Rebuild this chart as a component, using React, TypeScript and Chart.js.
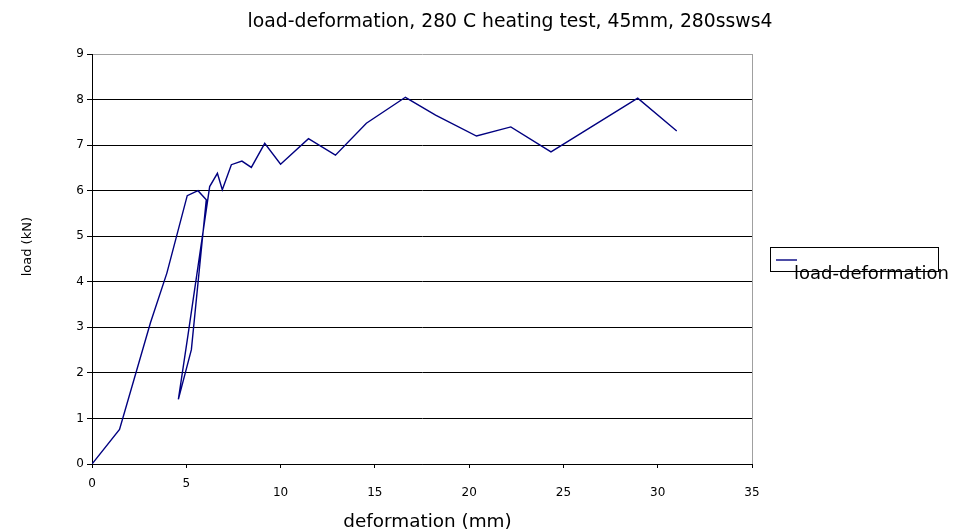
import React, { useEffect, useRef } from "react";
import { Chart, registerables } from "chart.js";

Chart.register(...registerables);

const chartTitle = "load-deformation, 280 C heating test, 45mm, 280ssws4";
const xAxisTitle = "deformation (mm)";
const yAxisTitle = "load (kN)";
const seriesName = "load-deformation";

const deformation = [
  0, 1.46, 3.1, 3.97, 5.05, 5.62, 6.06, 5.27, 4.58, 5.08, 6.24, 6.65, 6.91, 7.39,
  7.95, 8.45, 9.16, 10.0, 11.48, 12.91, 14.55, 16.62, 18.22, 20.39, 22.21, 24.34,
  28.94, 31.01,
];
const load = [
  0, 0.76, 3.1, 4.19, 5.89, 6.0, 5.8, 2.51, 1.42, 2.8, 6.09, 6.38, 6.02, 6.57,
  6.65, 6.51, 7.04, 6.58, 7.14, 6.78, 7.48, 8.05, 7.66, 7.2, 7.4, 6.85, 8.03,
  7.31,
];

const xTicks = [0, 5, 10, 15, 20, 25, 30, 35];
const yTicks = [0, 1, 2, 3, 4, 5, 6, 7, 8, 9];

const LINE_COLOR = "#000080";
const FONT = "'DejaVu Sans', sans-serif";

const overlayPlugin = {
  id: "overlay",
  afterDraw(chart: any) {
    const ctx = chart.ctx as CanvasRenderingContext2D;
    ctx.save();
    ctx.fillStyle = "#000";
    ctx.textBaseline = "alphabetic";

    // title
    ctx.font = `18.8px ${FONT}`;
    ctx.textAlign = "center";
    ctx.fillText(chartTitle, 510, 26.5);

    // x axis title
    ctx.font = `18.4px ${FONT}`;
    ctx.fillText(xAxisTitle, 427.5, 526.5);

    // y axis title
    ctx.save();
    ctx.translate(31, 246.7);
    ctx.rotate(-Math.PI / 2);
    ctx.font = `13px ${FONT}`;
    ctx.textAlign = "center";
    ctx.fillText(yAxisTitle, 0, 0);
    ctx.restore();

    // legend
    ctx.strokeStyle = "#000";
    ctx.lineWidth = 1;
    ctx.strokeRect(770.5, 247.5, 168, 24);
    ctx.strokeStyle = LINE_COLOR;
    ctx.lineWidth = 1.4;
    ctx.beginPath();
    ctx.moveTo(776, 260);
    ctx.lineTo(797, 260);
    ctx.stroke();
    ctx.font = `18px ${FONT}`;
    ctx.textAlign = "left";
    ctx.fillStyle = "#000";
    ctx.fillText(seriesName, 794, 279);
    ctx.restore();
  },
};

export default function App() {
  const canvasRef = useRef<HTMLCanvasElement | null>(null);

  useEffect(() => {
    document.body.style.margin = "0";
    const canvas = canvasRef.current;
    if (!canvas) return;
    const points = deformation.map((x, i) => ({ x, y: load[i] }));
    const chart = new Chart(canvas, {
      type: "line",
      data: {
        datasets: [
          {
            label: seriesName,
            data: points,
            borderColor: LINE_COLOR,
            backgroundColor: LINE_COLOR,
            borderWidth: 1.4,
            pointRadius: 0,
            tension: 0,
            fill: false,
          },
        ],
      },
      options: {
        responsive: false,
        animation: false,
        layout: { padding: { top: 54, right: 208, left: 0, bottom: 0 } },
        plugins: {
          legend: { display: false },
          title: { display: false },
          tooltip: { enabled: false },
        },
        scales: {
          x: {
            type: "linear",
            min: xTicks[0],
            max: xTicks[xTicks.length - 1],
            afterFit(scale: any) {
              scale.height = 68;
            },
            afterBuildTicks(scale: any) {
              scale.ticks = xTicks.map((v) => ({ value: v }));
            },
            grid: {
              drawOnChartArea: true,
              color: (c: any) =>
                c.tick && c.tick.value === xTicks[xTicks.length - 1]
                  ? "#a0a0a0"
                  : "rgba(0,0,0,0)",
              tickColor: "#000",
              tickLength: 4,
              lineWidth: 1,
            },
            border: { color: "#000", width: 1 },
            ticks: {
              color: "#000",
              padding: 11,
              maxRotation: 0,
              autoSkip: false,
              font: { family: FONT, size: 12, lineHeight: 9 / 12 },
              callback: (v: any) => (Number(v) >= 10 ? ["", String(v)] : String(v)),
            },
          },
          y: {
            type: "linear",
            min: yTicks[0],
            max: yTicks[yTicks.length - 1],
            afterFit(scale: any) {
              scale.width = 92;
            },
            afterBuildTicks(scale: any) {
              scale.ticks = yTicks.map((v) => ({ value: v }));
            },
            grid: {
              color: (c: any) =>
                c.tick && c.tick.value === yTicks[yTicks.length - 1] ? "#a0a0a0" : "#000",
              tickColor: "#000",
              tickLength: 5,
              lineWidth: 1,
            },
            border: { color: "#000", width: 1 },
            ticks: {
              color: "#000",
              padding: 3,
              autoSkip: false,
              font: { family: FONT, size: 12 },
            },
          },
        },
      },
      plugins: [overlayPlugin],
    });
    return () => chart.destroy();
  }, []);

  return (
    <div style={{ width: 960, height: 532, background: "#fff" }}>
      <canvas ref={canvasRef} width={960} height={532} style={{ display: "block" }} />
    </div>
  );
}
